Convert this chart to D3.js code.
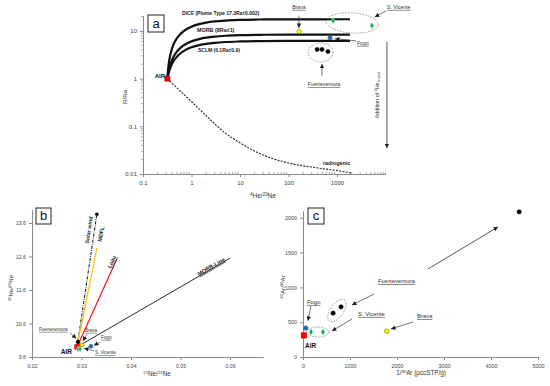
<!DOCTYPE html>
<html><head><meta charset="utf-8">
<script src="https://cdn.jsdelivr.net/npm/d3@7/dist/d3.min.js"></script>
<style>
body{margin:0;background:#fff;}
svg text{font-family:"Liberation Sans",Arial,sans-serif;}
</style></head>
<body>
<svg id="chart" width="550" height="386"></svg>
<script>
// ================= DATA =================
// ---- Panel a : R/Ra vs 4He/20Ne (log-log) ----
const aXTicks = [0.1, 1, 10, 100, 1000];
const aYTicks = [0.01, 0.1, 1, 10];
const mixHeNe = [0.318,0.33,0.35,0.4,0.5,0.6,0.8,1,1.5,2,3,5,10,30,100,1850];
const diceRa  = [1,1.6,2.52,4.4,7.04,8.8,11.0,12.3,14.1,14.96,15.84,16.54,17.07,17.42,17.55,17.6];
const morbRa  = [1,1.27,1.68,2.52,3.69,4.48,5.46,6.05,6.83,7.22,7.62,7.93,8.16,8.32,8.38,8.4];
const sclmRa  = [1,1.19,1.48,2.07,2.89,3.44,4.13,4.55,5.10,5.37,5.65,5.87,6.03,6.14,6.18,6.2];
const radioHeNe = [0.318,0.5,1,2.4,5,10,30,100,400,1000,2000];
const radioRa   = [1,0.64,0.33,0.14,0.072,0.045,0.025,0.017,0.0134,0.0118,0.0105];
const aPoints = [
  {site:"AIR", x:0.318, y:1},
  {site:"Brava", x:166, y:9.7},
  {site:"S. Vicente", x:830, y:16.4},
  {site:"S. Vicente", x:5250, y:12.9},
  {site:"Fogo", x:718, y:7.2},
  {site:"Fuerteventura", x:390, y:4.1},
  {site:"Fuerteventura", x:490, y:4.1},
  {site:"Fuerteventura", x:650, y:3.7}
];
const aLabels = [
  {text:"DICE (Plume Type 17.3Ra±0.002)", x:0.64, y:21.2, kind:"curve"},
  {text:"MORB (8Ra±1)", x:1.30, y:9.55, kind:"curveL"},
  {text:"SCLM (6.1Ra±0.9)", x:1.36, y:3.63, kind:"curve"},
  {text:"AIR", x:0.284, y:1.03, kind:"air", anchor:"end"},
  {text:"radiogenic", x:514, y:0.0155, kind:"curveL"},
  {text:"Brava", x:164, y:29, kind:"siteA", anchor:"middle"},
  {text:"S. Vicente", x:10700, y:29, kind:"siteA"},
  {text:"Fogo", x:2580, y:5.1, kind:"siteA"},
  {text:"Fuerteventura", x:540, y:0.70, kind:"siteA", anchor:"middle"}
];
const aArrows = [
  {x1:164, y1:20.7, x2:164, y2:11.6},
  {x1:10240, y1:26.3, x2:6000, y2:19.7},
  {x1:2466, y1:6.18, x2:910, y2:6.9},
  {x1:490, y1:1.14, x2:490, y2:2.03}
];
const aCrustalArrow = {x1:10700, y1:5.9, x2:10700, y2:0.035};
const aCrustalText = {x:7300, y:0.455};
const aEllipses = [{x:2040, y:14.7}, {x:458, y:3.55}];

// ---- Panel b : 20Ne/22Ne vs 21Ne/22Ne ----
const bXTicks = [0.02, 0.03, 0.04, 0.05, 0.06];
const bYTicks = [9.6, 10.6, 11.6, 12.6, 13.6];
const bAir = {x:0.0291, y:9.9};
const bLines = [
  {name:"Solar wind", x:0.0331, y:13.86},
  {name:"MDFL", x:0.0331, y:12.85},
  {name:"Loihi", x:0.0371, y:12.52},
  {name:"MORB-Line", x:0.060, y:12.55}
];
const bLineLabels = [
  {text:"Solar wind", line:"Solar wind", x:0.03150, y:13.39},
  {text:"MDFL", line:"MDFL", x:0.03394, y:13.27},
  {text:"Loihi", line:"Loihi", x:0.03616, y:12.44},
  {text:"MORB-Line", line:"MORB-Line", x:0.0562, y:12.30}
];
const bPoints = [
  {site:"AIR", x:0.0291, y:9.9},
  {site:"Fuerteventura", x:0.0293, y:10.05},
  {site:"S. Vicente", x:0.0293, y:9.84},
  {site:"S. Vicente", x:0.0297, y:9.84},
  {site:"Brava", x:0.0301, y:9.96},
  {site:"Fogo", x:0.0319, y:9.92}
];
const bLabels = [
  {text:"Fuerteventura", x:0.02141, y:10.38, kind:"siteB"},
  {text:"Brava", x:0.03071, y:10.35, kind:"siteB"},
  {text:"Fogo", x:0.03394, y:10.14, kind:"siteB"},
  {text:"S. Vicente", x:0.03273, y:9.69, kind:"siteB"},
  {text:"AIR", x:0.02808, y:9.675, kind:"airB", anchor:"end"}
];
const bArrows = [
  {x1:0.02768, y1:10.32, x2:0.02895, y2:10.15},
  {x1:0.03111, y1:10.29, x2:0.0303, y2:10.08},
  {x1:0.03374, y1:10.05, x2:0.03253, y2:9.94},
  {x1:0.03253, y1:9.78, x2:0.0305, y2:9.86}
];

// ---- Panel c : 40Ar/36Ar vs 1/36Ar ----
const cXTicks = [0, 1000, 2000, 3000, 4000, 5000];
const cYTicks = [0, 500, 1000, 1500, 2000];
const cPoints = [
  {site:"AIR", x:20, y:310},
  {site:"Fogo", x:60, y:415},
  {site:"S. Vicente", x:170, y:360},
  {site:"S. Vicente", x:425, y:360},
  {site:"Fuerteventura", x:640, y:630},
  {site:"Fuerteventura", x:810, y:720},
  {site:"Fuerteventura", x:4600, y:2085},
  {site:"Brava", x:1780, y:370}
];
const cLabels = [
  {text:"Fogo", x:85, y:762, kind:"siteC"},
  {text:"AIR", x:43, y:130, kind:"airC"},
  {text:"S. Vicente", x:1170, y:590, kind:"siteC"},
  {text:"Fuerteventura", x:1596, y:1063, kind:"siteC"},
  {text:"Brava", x:2426, y:560, kind:"siteC"}
];
const cArrows = [
  {x1:170, y1:733, x2:105, y2:520},
  {x1:1043, y1:546, x2:617, y2:374},
  {x1:1510, y1:905, x2:1043, y2:747},
  {x1:2340, y1:503, x2:1872, y2:402},
  {x1:2660, y1:1265, x2:4149, y2:1868}
];
const cEllipses = [{x:723, y:668, kind:"tilt"}, {x:319, y:359, kind:"flat"}];

// ================= STYLE / LAYOUT =================
const FONT = '"Liberation Sans", Arial, sans-serif';
const siteStyle = {
  "AIR": {type:d3.symbolSquare, fill:"#ff0000", stroke:"#b00000", size:26},
  "Brava": {type:d3.symbolCircle, fill:"#ffff00", stroke:"#6b6b00", size:14},
  "S. Vicente": {type:d3.symbolDiamond, fill:"#00b050", stroke:"#cfeedd", size:13},
  "Fogo": {type:d3.symbolCircle, fill:"#1f6fc4", stroke:"#1f4e79", size:14},
  "Fuerteventura": {type:d3.symbolCircle, fill:"#000", stroke:"#000", size:13}
};
const labelStyle = {
  curve:{size:5.0, weight:"bold", fill:"#222"},
  curveL:{size:5.4, weight:"bold", fill:"#222"},
  air:{size:6.0, weight:"bold", fill:"#111"},
  airB:{size:6.6, weight:"bold", fill:"#111"},
  airC:{size:6.4, weight:"bold", fill:"#111"},
  siteA:{size:5.2, weight:"normal", fill:"#333", underline:true},
  siteB:{size:4.6, weight:"normal", fill:"#333", underline:true},
  siteC:{size:5.9, weight:"normal", fill:"#333", underline:true}
};

const svg = d3.select("#chart");
svg.append("rect").attr("width",550).attr("height",386).attr("fill","#fff");
const defs = svg.append("defs");
defs.append("marker").attr("id","ah").attr("viewBox","0 0 10 10").attr("refX",10).attr("refY",5)
  .attr("markerUnits","userSpaceOnUse").attr("markerWidth",4.5).attr("markerHeight",4.5).attr("orient","auto")
  .append("path").attr("d","M0,0L10,5L0,10Z").attr("fill","#1a1a1a");

// scales
const xA = d3.scaleLog().domain([0.1,10000]).range([143,385.5]);
const yA = d3.scaleLog().domain([0.01,21]).range([174,15.6]);
const xB = d3.scaleLinear().domain([0.02,0.0667]).range([32,263.2]);
const yB = d3.scaleLinear().domain([9.6,14.0]).range([357,209.6]);
const xC = d3.scaleLinear().domain([0,5000]).range([303,538]);
const yC = d3.scaleLinear().domain([0,2100]).range([357,210.8]);

function styleAxis(g, fs){
  g.attr("font-family",FONT).attr("font-size",fs);
  g.select(".domain").attr("stroke","#8a8a8a");
  g.selectAll(".tick line").attr("stroke","#8a8a8a");
  g.selectAll(".tick text").attr("fill","#444");
}
function drawAxes(xs, ys, xt, yt, fs, xfmt, yfmt){
  const y0 = ys.range()[0], x0 = xs.range()[0];
  const gx = svg.append("g").attr("transform",`translate(0,${y0})`)
    .call(d3.axisBottom(xs).tickValues(xt).tickFormat(xfmt).tickSize(3).tickSizeOuter(0).tickPadding(4));
  styleAxis(gx, fs);
  const gy = svg.append("g").attr("transform",`translate(${x0},0)`)
    .call(d3.axisLeft(ys).tickValues(yt).tickFormat(yfmt).tickSize(3).tickSizeOuter(0).tickPadding(3));
  styleAxis(gy, fs);
}
function rich(sel, parts, fs){
  let shift = 0;
  parts.forEach(([s,t])=>{
    const target = t==="sup" ? -0.38*fs : t==="sub" ? 0.28*fs : 0;
    sel.append("tspan").attr("dy", (target-shift).toFixed(2)).attr("font-size", t ? fs*0.68 : fs).text(s);
    shift = target;
  });
}
function title(x, y, parts, fs, rot){
  const t = svg.append("text").attr("text-anchor","middle").attr("fill","#333")
    .attr("font-size",fs).attr("transform",`translate(${x},${y})${rot?` rotate(${rot})`:""}`);
  rich(t, parts, fs);
}
function box(x, y, w, h, letter){
  svg.append("rect").attr("x",x).attr("y",y).attr("width",w).attr("height",h)
    .attr("fill","#fff").attr("stroke","#222").attr("stroke-width",1);
  svg.append("text").attr("x",x+w/2).attr("y",y+h/2+4.3).attr("text-anchor","middle")
    .attr("font-size",13).attr("fill","#111").text(letter);
}
function points(data, xs, ys, scale){
  svg.append("g").selectAll("path").data(data).enter().append("path")
    .attr("transform",d=>`translate(${xs(d.x)},${ys(d.y)})`)
    .attr("d",d=>d3.symbol().type(siteStyle[d.site].type).size(siteStyle[d.site].size*scale)())
    .attr("fill",d=>siteStyle[d.site].fill).attr("stroke",d=>siteStyle[d.site].stroke).attr("stroke-width",0.6);
}
function labels(data, xs, ys){
  data.forEach(d=>{
    const s = labelStyle[d.kind];
    svg.append("text").attr("x",xs(d.x)).attr("y",ys(d.y)).attr("text-anchor",d.anchor||"start")
      .attr("font-size",s.size).attr("font-weight",s.weight).attr("fill",s.fill)
      .style("text-decoration", s.underline ? "underline" : "none").text(d.text);
  });
}
function arrows(data, xs, ys, color, w){
  data.forEach(d=>{
    svg.append("line").attr("x1",xs(d.x1)).attr("y1",ys(d.y1)).attr("x2",xs(d.x2)).attr("y2",ys(d.y2))
      .attr("stroke",color||"#333").attr("stroke-width",w||0.7).attr("marker-end","url(#ah)");
  });
}
function ellipse(cx, cy, rx, ry, rot){
  svg.append("ellipse").attr("cx",0).attr("cy",0).attr("rx",rx).attr("ry",ry)
    .attr("transform",`translate(${cx},${cy}) rotate(${rot})`)
    .attr("fill","none").attr("stroke","#777").attr("stroke-width",0.7).attr("stroke-dasharray","1.6,1.2");
}

// ================= PANEL A =================
drawAxes(xA, yA, aXTicks, aYTicks, 6, d=>String(d), d=>String(d));
// minor log ticks
xA.ticks().filter(v=>!aXTicks.includes(v) && v<=10000).forEach(v=>{
  svg.append("line").attr("x1",xA(v)).attr("x2",xA(v)).attr("y1",yA(0.01)-2).attr("y2",yA(0.01)+1)
    .attr("stroke","#8a8a8a").attr("stroke-width",0.7);
});
yA.ticks().filter(v=>!aYTicks.includes(v) && v<=21).forEach(v=>{
  svg.append("line").attr("x1",xA(0.1)-2).attr("x2",xA(0.1)+1).attr("y1",yA(v)).attr("y2",yA(v))
    .attr("stroke","#8a8a8a").attr("stroke-width",0.7);
});
const lineA = d3.line().x(d=>xA(d[0])).y(d=>yA(d[1])).curve(d3.curveMonotoneX);
[diceRa, morbRa, sclmRa].forEach(arr=>{
  svg.append("path").attr("d", lineA(mixHeNe.map((x,i)=>[x,arr[i]])))
    .attr("fill","none").attr("stroke","#111").attr("stroke-width",2.2);
});
svg.append("path").attr("d", lineA(radioHeNe.map((x,i)=>[x,radioRa[i]])))
  .attr("fill","none").attr("stroke","#222").attr("stroke-width",1.1).attr("stroke-dasharray","2,1.3");
ellipse(xA(aEllipses[0].x), yA(aEllipses[0].y), 26, 10, 4);
ellipse(xA(aEllipses[1].x), yA(aEllipses[1].y), 12.5, 9.5, 0);
arrows(aArrows, xA, yA, "#333", 0.7);
svg.append("line").attr("x1",xA(aCrustalArrow.x1)).attr("y1",yA(aCrustalArrow.y1))
  .attr("x2",xA(aCrustalArrow.x2)).attr("y2",yA(aCrustalArrow.y2))
  .attr("stroke","#555").attr("stroke-width",1).attr("marker-end","url(#ah)");
title(xA(aCrustalText.x), yA(aCrustalText.y), [["Addition of ",null],["4","sup"],["He",null],["crustal","sub"]], 5.4, -90);
points(aPoints, xA, yA, 1);
labels(aLabels, xA, yA);
title(127, 97, [["R/Ra",null]], 6.2, -90);
title(263, 198, [["4","sup"],["He/",null],["20","sup"],["Ne",null]], 6.5, 0);
box(148, 15, 16, 17, "a");

// ================= PANEL B =================
drawAxes(xB, yB, bXTicks, bYTicks, 5.2, d3.format(".2f"), d3.format(".1f"));
const bLineStyle = {
  "Solar wind": {stroke:"#222", width:1.1, dash:"3,1.2,0.8,1.2"},
  "MDFL": {stroke:"#ffc000", width:1.2, dash:null},
  "Loihi": {stroke:"#ff0000", width:1.1, dash:null},
  "MORB-Line": {stroke:"#111", width:0.9, dash:null}
};
bLines.forEach(l=>{
  const s = bLineStyle[l.name];
  svg.append("line").attr("x1",xB(bAir.x)).attr("y1",yB(bAir.y)).attr("x2",xB(l.x)).attr("y2",yB(l.y))
    .attr("stroke",s.stroke).attr("stroke-width",s.width).attr("stroke-dasharray",s.dash);
});
const sw = bLines[0];
svg.append("circle").attr("cx",xB(sw.x)).attr("cy",yB(sw.y)).attr("r",1.8).attr("fill","#000");
bLineLabels.forEach(lb=>{
  const l = bLines.find(q=>q.name===lb.line);
  const ang = Math.atan2(yB(l.y)-yB(bAir.y), xB(l.x)-xB(bAir.x))*180/Math.PI;
  svg.append("text").attr("text-anchor","middle").attr("font-size", lb.text==="MORB-Line"?5.6:5.4)
    .attr("font-weight","bold").attr("fill","#222")
    .style("text-decoration", lb.text==="MORB-Line"||lb.text==="Loihi" ? "underline":"none")
    .attr("transform",`translate(${xB(lb.x)},${yB(lb.y)}) rotate(${ang})`).attr("dy","0.35em").text(lb.text);
});
arrows(bArrows, xB, yB, "#333", 0.6);
points(bPoints, xB, yB, 0.85);
labels(bLabels, xB, yB);
title(13, 288, [["20","sup"],["Ne/",null],["22","sup"],["Ne",null]], 6, -90);
title(157, 376, [["21","sup"],["Ne/",null],["22","sup"],["Ne",null]], 6.3, 0);
box(36, 208, 15, 16, "b");

// ================= PANEL C =================
drawAxes(xC, yC, cXTicks, cYTicks, 5.4, d=>String(d), d=>String(d));
ellipse(xC(cEllipses[0].x), yC(cEllipses[0].y), 13, 6.5, -55);
ellipse(xC(cEllipses[1].x), yC(cEllipses[1].y), 11, 5, 0);
arrows(cArrows.slice(0,4), xC, yC, "#333", 0.7);
arrows(cArrows.slice(4), xC, yC, "#444", 0.9);
points(cPoints, xC, yC, 1.1);
labels(cLabels, xC, yC);
title(285, 287, [["40","sup"],["Ar/",null],["36","sup"],["Ar",null]], 6.2, -90);
title(421, 375, [["1/",null],["36","sup"],["Ar (µccSTP/g)",null]], 6.3, 0);
box(308, 208, 16, 16, "c");
</script>
</body></html>
